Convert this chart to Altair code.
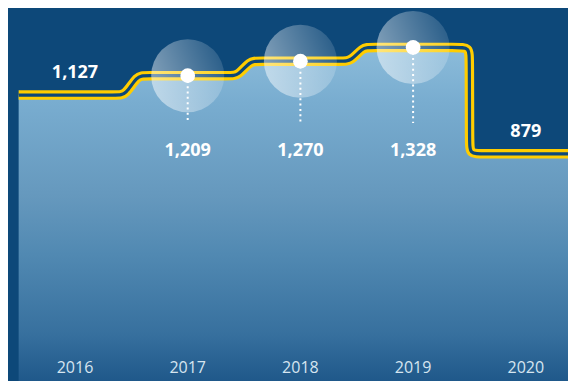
import altair as alt
import pandas as pd

years = [2016, 2017, 2018, 2019, 2020]
values = [1127, 1209, 1270, 1328, 879]
highlight = [False, True, True, True, False]

W, H = 560, 373
PX_YEAR = 112.7
PX_UNIT = 0.237
X_DOM = [2015.4055, 2015.4055 + W / PX_YEAR]
Y_DOM = [1494.5 - H / PX_UNIT, 1494.5]

BG = "#0D4879"
YEL = "#FFCD00"

# control points of the rounded step path (built from the data)
rx_small = 6 / PX_YEAR
r_big_x = 12 / PX_YEAR
r_big_y = 12 / PX_UNIT
pts = [(years[0] - 0.5, values[0]), (years[0], values[0])]
for i in range(1, len(years)):
    xb = years[i] - 0.5
    y1, y2 = values[i - 1], values[i]
    big = abs(y2 - y1) * PX_UNIT > 40
    if big:
        s = 1 if y2 > y1 else -1
        pts += [(xb - r_big_x, y1), (xb - 0.002, y1),
                (xb - 0.001, y1 + s * r_big_y), (xb + 0.001, y2 - s * r_big_y),
                (xb + 0.002, y2), (xb + r_big_x, y2)]
    else:
        pts += [(xb - 2.2 * rx_small, y1), (xb - rx_small, y1),
                (xb + rx_small, y2), (xb + 2.2 * rx_small, y2)]
    pts.append((years[i], y2))
pts.append((years[-1] + 0.5, values[-1]))
path = pd.DataFrame({"x": [p[0] for p in pts], "v": [p[1] for p in pts]})

df = pd.DataFrame({"year": years, "value": values, "hl": highlight})

xs = alt.Scale(domain=X_DOM, nice=False, zero=False)
ys = alt.Scale(domain=Y_DOM, nice=False, zero=False)


def X(f):
    return alt.X(f, type="quantitative", scale=xs, axis=None)


def Y(f):
    return alt.Y(f, type="quantitative", scale=ys, axis=None, stack=None)


area = alt.Chart(path).mark_area(
    interpolate="basis", clip=True,
    color=alt.Gradient(gradient="linear", x1=0, y1=0, x2=0, y2=1, stops=[
        alt.GradientStop(color="#8cbcda", offset=0),
        alt.GradientStop(color="#79add0", offset=0.16),
        alt.GradientStop(color="#6598bd", offset=0.45),
        alt.GradientStop(color="#5189b2", offset=0.62),
        alt.GradientStop(color="#37709e", offset=0.86),
        alt.GradientStop(color="#1f588a", offset=1),
    ])
).encode(x=X("x"), y=Y("v"), y2=alt.value(H))

line_y = alt.Chart(path).mark_line(
    interpolate="basis", clip=True, color=YEL, strokeWidth=9.5,
    strokeCap="butt", strokeJoin="round"
).encode(x=X("x"), y=Y("v"))
line_d = alt.Chart(path).mark_line(
    interpolate="basis", clip=True, color=BG, strokeWidth=3.2,
    strokeCap="butt", strokeJoin="round"
).encode(x=X("x"), y=Y("v"))

hl = alt.Chart(df).transform_filter("datum.hl")
nhl = alt.Chart(df).transform_filter("!datum.hl")

halo = hl.mark_point(
    shape="circle", size=5330, filled=True, opacity=1,
    fill=alt.Gradient(gradient="linear", x1=0, y1=0.7, x2=1, y2=0.3, stops=[
        alt.GradientStop(color="rgba(255,255,255,0.5)", offset=0),
        alt.GradientStop(color="rgba(255,255,255,0.12)", offset=1),
    ]), strokeWidth=0
).encode(x=X("year"), y=Y("value"))

rule = hl.mark_rule(color="white", strokeWidth=2, strokeDash=[2, 3.3]).encode(
    x=X("year"), y=Y("value"), y2=alt.value(115))

dot = hl.mark_point(shape="circle", size=216, filled=True, color="white",
                    opacity=1).encode(x=X("year"), y=Y("value"))

lab_below = hl.mark_text(font="Open Sans", fontSize=18, fontWeight="bold",
                         color="white", baseline="middle").encode(
    x=X("year"), y=alt.value(143), text=alt.Text("value:Q", format=","))
lab_above = nhl.mark_text(font="Open Sans", fontSize=18, fontWeight="bold",
                          color="white", baseline="middle", dy=-22).encode(
    x=X("year"), y=Y("value"), text=alt.Text("value:Q", format=","))

yr = alt.Chart(df).mark_text(font="Open Sans", fontSize=16, color="#d6e5f0",
                             baseline="middle").encode(
    x=X("year"), y=alt.value(H - 13), text="year:N")

chart = alt.layer(area, line_y, line_d, halo, rule, dot, lab_below, lab_above, yr).properties(
    width=W, height=H, background=BG, padding=0,
    autosize=alt.AutoSizeParams(type="none")
).configure_view(stroke=None)

chart.save("out.html", embed_options={"renderer": "svg", "actions": False})
